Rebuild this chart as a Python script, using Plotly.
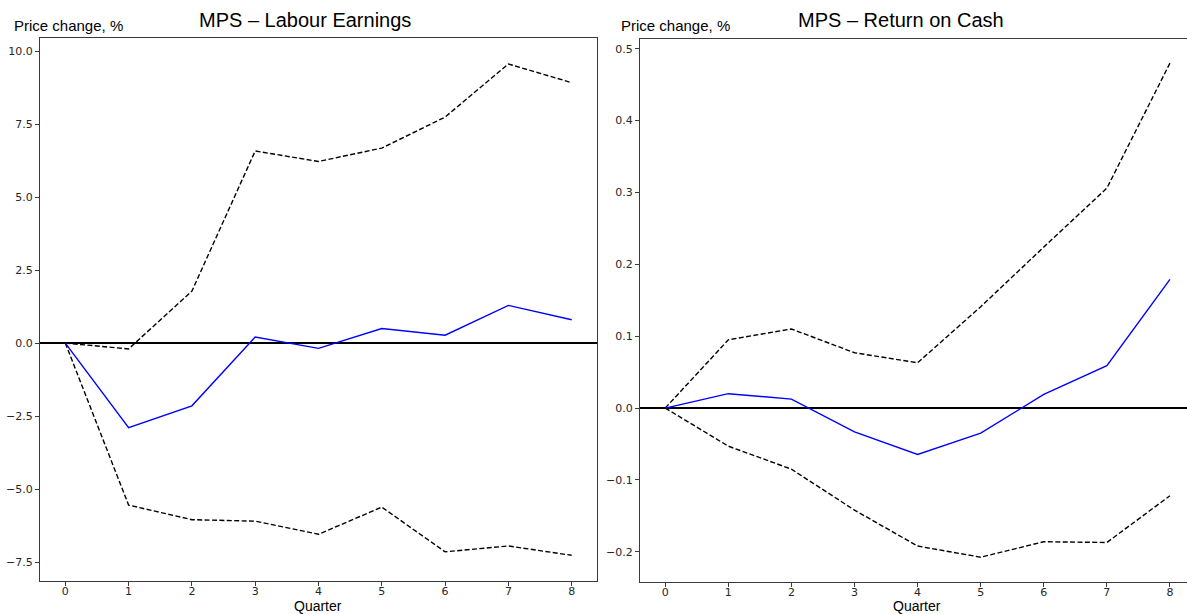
import plotly.graph_objects as go

# Impulse responses to a monetary policy shock, by quarter
quarters = [0, 1, 2, 3, 4, 5, 6, 7, 8]

earn_mid = [0.0, -2.90, -2.15, 0.21, -0.18, 0.50, 0.27, 1.29, 0.80]
earn_upper = [0.0, -0.20, 1.78, 6.58, 6.22, 6.68, 7.74, 9.56, 8.92]
earn_lower = [0.0, -5.55, -6.05, -6.10, -6.55, -5.62, -7.15, -6.95, -7.27]

cash_mid = [0.0, 0.020, 0.0125, -0.033, -0.0645, -0.035, 0.019, 0.059, 0.179]
cash_upper = [0.0, 0.095, 0.110, 0.077, 0.063, 0.141, 0.224, 0.306, 0.480]
cash_lower = [0.0, -0.053, -0.085, -0.142, -0.192, -0.2075, -0.186, -0.187, -0.122]

earn_yticks = [-7.5, -5.0, -2.5, 0.0, 2.5, 5.0, 7.5, 10.0]
cash_yticks = [-0.2, -0.1, 0.0, 0.1, 0.2, 0.3, 0.4, 0.5]

W, H = 1187, 614
TICK_FONT = dict(family="DejaVu Sans", size=11, color="#262626")
LABEL_FONT = "Liberation Sans, Arial, sans-serif"
SPINE = "#3a3a3a"

fig = go.Figure()

panels = [
    ("x", "y", earn_mid, earn_upper, earn_lower),
    ("x2", "y2", cash_mid, cash_upper, cash_lower),
]
for xa, ya, mid, up, lo in panels:
    for band in (up, lo):
        fig.add_trace(go.Scatter(
            x=quarters, y=band, mode="lines", xaxis=xa, yaxis=ya,
            line=dict(color="black", width=1.4, dash="5px,2.4px"),
            showlegend=False, hoverinfo="skip"))
    fig.add_trace(go.Scatter(
        x=quarters, y=mid, mode="lines", xaxis=xa, yaxis=ya,
        line=dict(color="#0000ff", width=1.4),
        showlegend=False, hoverinfo="skip"))

common_x = dict(
    tickvals=quarters, ticks="outside", ticklen=4, tickwidth=1,
    tickcolor=SPINE, tickfont=TICK_FONT, showgrid=False, zeroline=False,
    showline=True, linecolor=SPINE, linewidth=1, mirror=True,
    ticklabelstandoff=-4,
)
common_y = dict(
    ticks="outside", ticklen=4, tickwidth=1, tickcolor=SPINE,
    tickfont=TICK_FONT, showgrid=False, showline=True, linecolor=SPINE,
    linewidth=1, zeroline=True, zerolinecolor="black", zerolinewidth=1.6,
)

fig.update_layout(
    width=W, height=H,
    margin=dict(l=0, r=0, t=0, b=0),
    paper_bgcolor="white", plot_bgcolor="white",
    xaxis=dict(domain=[40 / W, 597 / W], range=[-0.4, 8.4],
               anchor="y", **common_x),
    yaxis=dict(domain=[1 - 581 / H, 1 - 38 / H], range=[-8.15, 10.45],
               anchor="x", tickvals=earn_yticks, tickformat=".1f",
               mirror=True, **common_y),
    xaxis2=dict(domain=[640 / W, 1.0], range=[-0.4, 8.27],
                anchor="y2", **common_x),
    yaxis2=dict(domain=[1 - 582 / H, 1 - 39 / H], range=[-0.242, 0.5135],
                anchor="x2", tickvals=cash_yticks, tickformat=".1f",
                mirror=False, **common_y),
)

texts = [
    ("MPS – Labour Earnings", 305, 20, 20, "center"),
    ("MPS – Return on Cash", 901, 20, 20, "center"),
    ("Price change, %", 12, 25, 15, "left"),
    ("Price change, %", 619, 25, 15, "left"),
    ("Quarter", 318, 606, 14, "center"),
    ("Quarter", 917, 606, 14, "center"),
]
for txt, px, py, size, anchor in texts:
    fig.add_annotation(
        text=txt, x=px / W, y=1 - py / H, xref="paper", yref="paper",
        xanchor=anchor, yanchor="middle", showarrow=False,
        font=dict(family=LABEL_FONT, size=size, color="black"))

fig.write_html("out.html")
